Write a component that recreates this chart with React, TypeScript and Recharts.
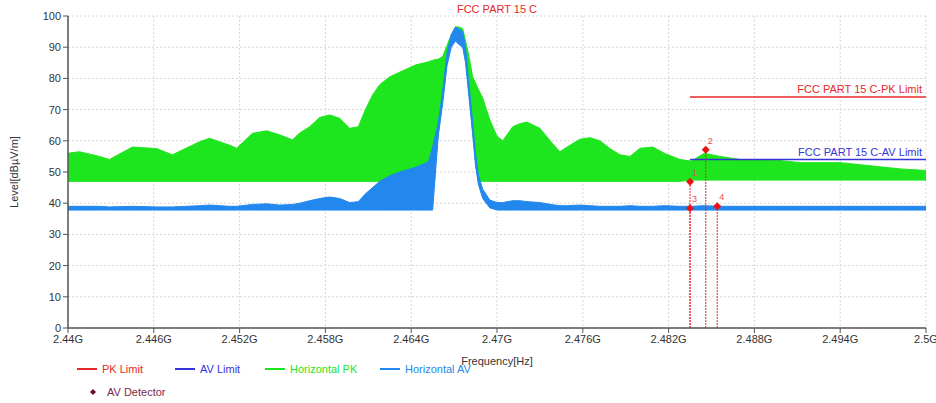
import {
  Area,
  CartesianGrid,
  ComposedChart,
  ReferenceLine,
  Scatter,
  XAxis,
  YAxis,
} from "recharts";

// sweep frequencies in GHz
const freqs = [
  2.44, 2.4408, 2.4422, 2.4429, 2.4445, 2.4462, 2.4473, 2.4492, 2.4499, 2.4513,
  2.4518, 2.4529, 2.4539, 2.4548, 2.4557, 2.4562, 2.4569, 2.4576, 2.4583, 2.459,
  2.4597, 2.4603, 2.4608, 2.4613, 2.4618, 2.4625, 2.4632, 2.4643, 2.4652, 2.4655,
  2.4659, 2.4662, 2.4665, 2.4668, 2.4671, 2.4673, 2.4676, 2.4678, 2.468, 2.4683,
  2.4685, 2.4687, 2.469, 2.4695, 2.47, 2.4704, 2.4711, 2.4716, 2.4721, 2.473,
  2.4739, 2.4744, 2.4749, 2.4758, 2.4765, 2.4772, 2.4779, 2.4786, 2.4793, 2.48,
  2.4809, 2.4817, 2.4828, 2.4836, 2.4845, 2.4856, 2.487, 2.4891, 2.4912, 2.494,
  2.4961, 2.4982, 2.5,
];

// Horizontal PK trace: upper / lower envelope (dBµV/m)
const pkHigh = [
  56, 56.5, 55, 54, 58, 57.5, 55.5, 59.7, 60.8, 58.6,
  57.6, 62.4, 63.2, 61.9, 60.3, 62.5, 64.5, 67.5, 68.3, 67.2,
  64, 64.5, 70, 74.7, 78, 80.5, 82, 84.3, 85.3, 85.8,
  86.2, 87, 90.5, 94, 96.5, 96.5, 96, 92, 88, 80.5,
  78.5, 76.5, 73.7, 66.7, 61.5, 60, 64.5, 65.5, 66, 64,
  59, 56.5, 58, 60.5, 61, 60, 57.5, 55.5, 55, 57.6,
  58, 56, 54, 53.5, 56, 55, 54, 54, 53, 53,
  52, 51, 50.5,
];
const pkLow = [
  47, 47, 47, 47, 47, 47, 47, 47, 47, 47,
  47, 47, 47, 47, 47, 47, 47, 47, 47, 47,
  47, 47, 47, 47, 47, 47, 47, 47, 47, 50,
  62, 73, 85, 91, 93, 93, 92, 87, 77, 63,
  53, 47, 47, 47, 47, 47, 47, 47, 47, 47,
  47, 47, 47, 47, 47, 47, 47, 47, 47, 47,
  47, 47, 47, 47.4, 47.4, 47.4, 47.4, 47.4, 47.4, 47.4,
  47.4, 47.4, 47.4,
];

// Horizontal AV trace: upper / lower envelope
const avHigh = [
  39, 39, 39, 38.8, 39, 38.8, 38.8, 39.2, 39.4, 39,
  39, 39.6, 39.8, 39.4, 39.6, 40, 40.8, 41.5, 42, 41.5,
  40.2, 40.5, 43, 45, 47, 48.8, 50, 51.5, 53.2, 58,
  66, 76, 88, 94, 96.5, 96, 95, 90, 80, 66,
  56, 49, 44.5, 41, 40.2, 40.2, 40.8, 40.8, 40.5, 40.2,
  39.5, 39.2, 39.2, 39.4, 39.2, 39, 39, 39, 39.2, 39,
  39, 39.2, 39, 39, 39.2, 39, 39, 39, 39, 39,
  39, 39, 39,
];
const avLow = [
  37.8, 37.8, 37.8, 37.8, 37.8, 37.8, 37.8, 37.8, 37.8, 37.8,
  37.8, 37.8, 37.8, 37.8, 37.8, 37.8, 37.8, 37.8, 37.8, 37.8,
  37.8, 37.8, 37.8, 37.8, 37.8, 37.8, 37.8, 37.8, 37.8, 37.8,
  62, 72, 84, 90, 92, 91, 90, 85, 76, 62,
  52, 46, 41.5, 38.5, 37.8, 37.8, 37.8, 37.8, 37.8, 37.8,
  37.8, 37.8, 37.8, 37.8, 37.8, 37.8, 37.8, 37.8, 37.8, 37.8,
  37.8, 37.8, 37.8, 37.8, 37.8, 37.8, 37.8, 37.8, 37.8, 37.8,
  37.8, 37.8, 37.8,
];

const xTicks = [2.44, 2.446, 2.452, 2.458, 2.464, 2.47, 2.476, 2.482, 2.488, 2.494, 2.5];
const yTicks = [0, 10, 20, 30, 40, 50, 60, 70, 80, 90, 100];

const limitStart = 2.4835;
const limitEnd = 2.5;
const pkLimit = 74;
const avLimit = 54;

const markerNo = [1, 2, 3, 4];
const markerFreq = [2.4835, 2.4846, 2.4835, 2.4854];
const markerLevel = [46.9, 57.1, 38.4, 39.0];

const GREEN = "#1ee61e";
const AV_BLUE = "#2288ee";
const LIMIT_BLUE = "#3535d8";
const RED = "#e82828";

const rows = freqs.map((f, i) => ({
  f,
  pk: [pkLow[i], pkHigh[i]],
  av: [avLow[i], avHigh[i]],
}));

const markers = markerNo.map((no, i) => ({ no, f: markerFreq[i], level: markerLevel[i] }));

function Diamond(props: any) {
  const { cx, cy, payload } = props;
  return (
    <g>
      <path d={`M${cx},${cy - 4}L${cx + 4},${cy}L${cx},${cy + 4}L${cx - 4},${cy}Z`} fill="#ee1111" />
      <text x={cx + 2} y={cy - 6} fontSize={9} fill="#e05050">
        {payload.no}
      </text>
    </g>
  );
}

const legendItems = [
  { label: "PK Limit", color: RED, left: 77 },
  { label: "AV Limit", color: LIMIT_BLUE, left: 175 },
  { label: "Horizontal PK", color: GREEN, left: 265 },
  { label: "Horizontal AV", color: AV_BLUE, left: 380 },
];

export default function App() {
  return (
    <div
      style={{
        position: "absolute",
        left: 0,
        top: 0,
        width: 936,
        height: 403,
        background: "#fff",
        fontFamily: "Arial, 'Liberation Sans', sans-serif",
      }}
    >
      <ComposedChart width={936} height={403} data={rows} margin={{ top: 16, right: 10, bottom: 55, left: 18 }}>
        <CartesianGrid stroke="#d6d6d6" strokeDasharray="2 2" />
        <XAxis
          dataKey="f"
          type="number"
          domain={[2.44, 2.5]}
          ticks={xTicks}
          interval={0}
          allowDataOverflow
          tickFormatter={(v) => `${v}G`}
          tick={{ fill: "#333", fontSize: 11 }}
          tickLine={{ stroke: "#555" }}
          tickSize={5}
          axisLine={{ stroke: "#555", strokeWidth: 1.5 }}
          height={20}
        />
        <YAxis
          type="number"
          domain={[0, 100]}
          ticks={yTicks}
          interval={0}
          tick={{ fill: "#333", fontSize: 11 }}
          tickLine={{ stroke: "#555" }}
          tickSize={5}
          axisLine={{ stroke: "#555", strokeWidth: 1.5 }}
          width={50}
        />
        <Area
          type="linear"
          dataKey="pk"
          stroke={GREEN}
          strokeWidth={1}
          fill={GREEN}
          fillOpacity={1}
          isAnimationActive={false}
        />
        <Area
          type="linear"
          dataKey="av"
          stroke={AV_BLUE}
          strokeWidth={1}
          fill={AV_BLUE}
          fillOpacity={1}
          isAnimationActive={false}
        />
        <ReferenceLine
          segment={[
            { x: limitStart, y: pkLimit },
            { x: limitEnd, y: pkLimit },
          ]}
          stroke={RED}
          strokeWidth={1.5}
          label={{ value: "FCC PART 15 C-PK Limit", position: "insideBottomRight", offset: 4, fill: RED, fontSize: 11 }}
        />
        <ReferenceLine
          segment={[
            { x: limitStart, y: avLimit },
            { x: limitEnd, y: avLimit },
          ]}
          stroke={LIMIT_BLUE}
          strokeWidth={1.5}
          label={{ value: "FCC PART 15 C-AV Limit", position: "insideBottomRight", offset: 4, fill: LIMIT_BLUE, fontSize: 11 }}
        />
        {markers.map((m) => (
          <ReferenceLine
            key={m.no}
            segment={[
              { x: m.f, y: 0 },
              { x: m.f, y: m.level },
            ]}
            stroke="#ee2222"
            strokeDasharray="2 1"
            strokeWidth={1}
          />
        ))}
        <Scatter data={markers} dataKey="level" shape={Diamond} isAnimationActive={false} />
      </ComposedChart>

      <div style={{ position: "absolute", left: 0, width: 936, top: 3, textAlign: "center", paddingLeft: 58, boxSizing: "border-box", color: RED, fontSize: 11 }}>
        <span style={{ marginLeft: 0 }}>FCC PART 15 C</span>
      </div>
      <div
        style={{
          position: "absolute",
          left: 14,
          top: 172,
          transform: "translate(-50%, -50%) rotate(-90deg)",
          whiteSpace: "nowrap",
          fontSize: 11,
          color: "#333",
        }}
      >
        Level[dBµV/m]
      </div>
      <div style={{ position: "absolute", left: 497, top: 355, transform: "translateX(-50%)", fontSize: 11, color: "#333", whiteSpace: "nowrap" }}>
        Frequency[Hz]
      </div>
      {legendItems.map((it) => (
        <div key={it.label} style={{ position: "absolute", left: it.left, top: 363, display: "flex", alignItems: "center", fontSize: 11, color: it.color, whiteSpace: "nowrap" }}>
          <span style={{ display: "inline-block", width: 20, height: 2, background: it.color, marginRight: 5 }} />
          {it.label}
        </div>
      ))}
      <div style={{ position: "absolute", left: 89, top: 386, display: "flex", alignItems: "center", fontSize: 11, color: "#7a2a4a", whiteSpace: "nowrap" }}>
        <svg width={8} height={8} style={{ marginRight: 10 }}>
          <path d="M4,1L7,4L4,7L1,4Z" fill="#6a0a2a" />
        </svg>
        AV Detector
      </div>
    </div>
  );
}
